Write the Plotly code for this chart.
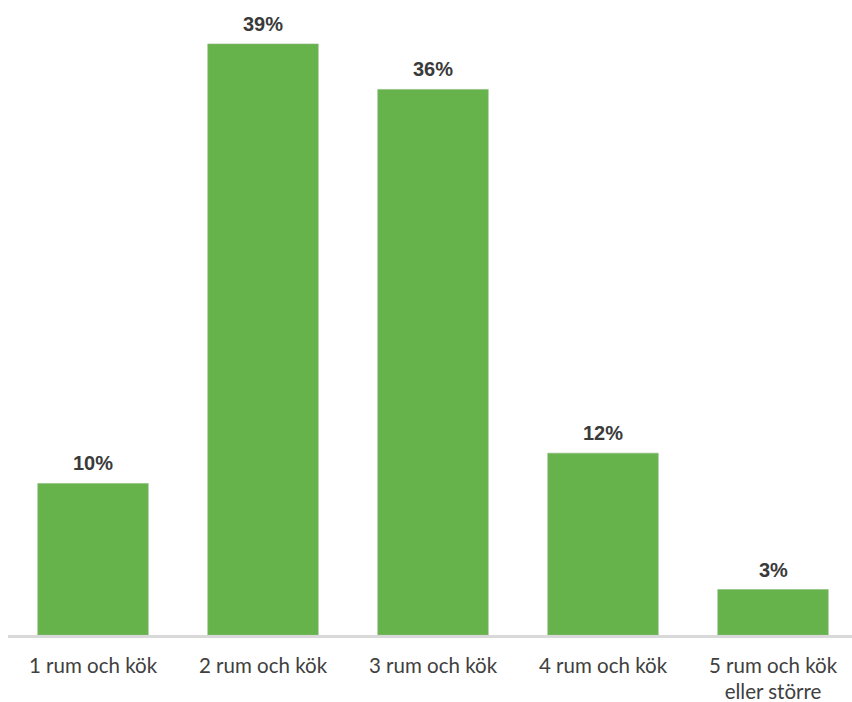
import plotly.graph_objects as go

categories = ["1 rum och kök", "2 rum och kök", "3 rum och kök", "4 rum och kök", "5 rum och kök<br>eller större"]
shares = [10, 39, 36, 12, 3]
share_labels = ["10%", "39%", "36%", "12%", "3%"]

fig = go.Figure()
fig.add_trace(go.Bar(
    x=list(range(len(categories))),
    y=shares,
    marker=dict(color="#66b34c", line=dict(color="#8fb880", width=0.6)),
    width=0.65,
    hoverinfo="skip",
))

for i, (v, lab) in enumerate(zip(shares, share_labels)):
    fig.add_annotation(
        x=i, y=v, text=f"<b>{lab}</b>", showarrow=False,
        yanchor="bottom", yshift=7,
        font=dict(family="Liberation Sans, Arial, sans-serif", size=20, color="#3a3a3a"),
    )

fig.update_layout(
    width=852, height=702,
    margin=dict(l=8, r=0, t=0, b=67),
    plot_bgcolor="white", paper_bgcolor="white",
    showlegend=False,
    xaxis=dict(
        range=[-0.5, 844 / 170 - 0.5],
        tickmode="array",
        tickvals=list(range(len(categories))),
        ticktext=categories,
        showline=True, linecolor="#d9d9d9", linewidth=3,
        showgrid=False, zeroline=False, ticks="",
        tickfont=dict(family="Lato, Open Sans, sans-serif", size=20.5, color="#404040"),
        ticklabelstandoff=10,
    ),
    yaxis=dict(
        range=[0, 41.9],
        visible=False, showgrid=False, zeroline=False,
    ),
)

fig.write_html("out.html")
